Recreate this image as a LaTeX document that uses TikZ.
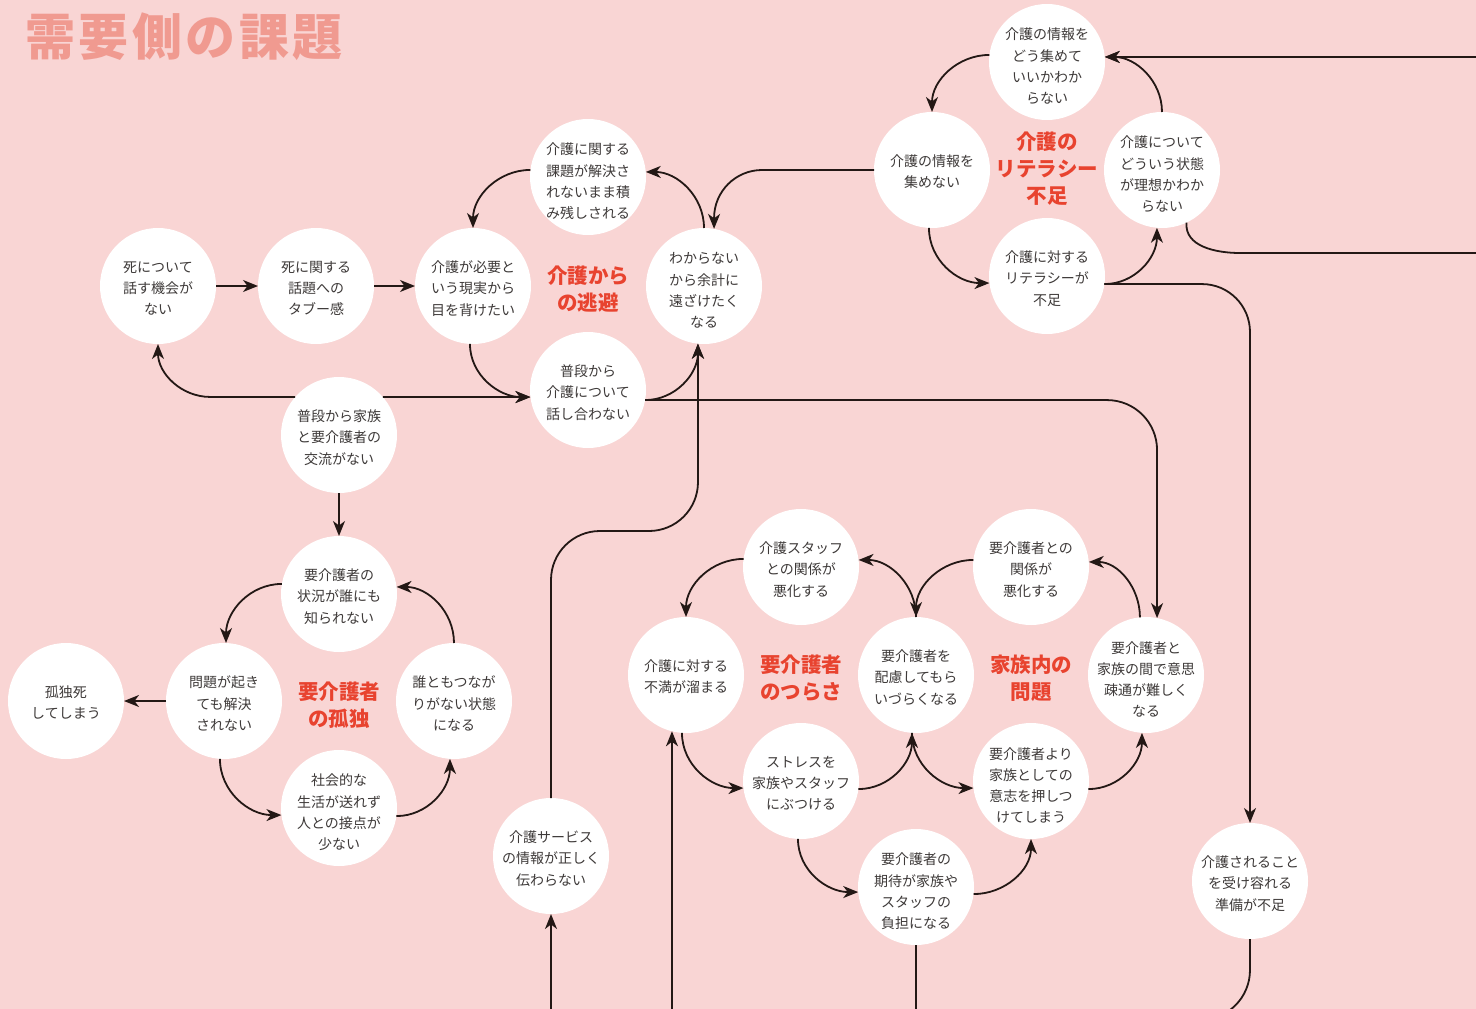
\documentclass[tikz,border=0pt]{standalone}
\usepackage{fontspec}
\setmainfont{Noto Sans CJK JP}
\usetikzlibrary{arrows.meta,calc}
\definecolor{bg}{HTML}{F9D5D4}
\definecolor{hred}{HTML}{E8432F}
\definecolor{ttl}{HTML}{F09A90}
\definecolor{txt}{HTML}{3E3A39}
\definecolor{lncol}{HTML}{231815}
\begin{document}
\begin{tikzpicture}[x=1pt,y=1pt,
 bub/.style={circle, fill=white, minimum size=116pt, inner sep=0pt, outer sep=0pt},
 lbl/.style={align=center, text=txt, inner sep=0pt, font=\fontsize{14}{21.3}\selectfont},
 lA/.style={label={[lbl, yshift=-1.5pt]center:{#1}}},
 lB/.style={label={[lbl, yshift=-2.5pt]center:{#1}}},
 lC/.style={label={[lbl, yshift=-4.5pt]center:{#1}}},
 hub/.style={align=center, text=hred, font=\fontsize{20.5}{27}\selectfont\bfseries},
 arr/.style={draw=lncol, line width=1.8pt, -{Stealth[length=15pt,width=12pt,inset=4.5pt]}},
 plain/.style={draw=lncol, line width=1.8pt},
]
\useasboundingbox (0,0) rectangle (1476,-1009);
\fill[bg] (0,0) rectangle (1476,-1009);
\clip (0,0) rectangle (1476,-1009);

\node[text=ttl, font=\fontsize{50}{56}\selectfont\bfseries\addfontfeatures{LetterSpace=7}] (title) at (184,-37) {需要側の課題};

% coordinates at the edges
\coordinate (re1) at (1476,-57);
\coordinate (re2) at (1476,-253);
\coordinate (c3) at (1240,-253);
\coordinate (b1) at (551,-1009);
\coordinate (b2) at (672,-1009);
\coordinate (b3) at (916,-1009);
\coordinate (b4) at (1000,-1020);

% escape
\node[bub, lB={死について\\話す機会が\\ない}] (t1) at (158,-286) {};
\node[bub, lB={死に関する\\話題への\\タブー感}] (t2) at (316,-286) {};
\node[bub, lB={介護が必要と\\いう現実から\\目を背けたい}] (t3) at (473,-286) {};
\node[bub, lC={介護に関する\\課題が解決さ\\れないまま積\\み残しされる}] (t4) at (588,-177) {};
\node[bub, lC={わからない\\から余計に\\遠ざけたく\\なる}] (t5) at (704,-286) {};
\node[bub, lB={普段から\\介護について\\話し合わない}] (t6) at (588,-390) {};
\node[bub, lB={普段から家族\\と要介護者の\\交流がない}] (f1) at (339,-435) {};
\node[hub] (h1) at (588,-289) {介護から\\の逃避};

% literacy
\node[bub, lC={介護の情報を\\どう集めて\\いいかわか\\らない}] (L1) at (1047,-62) {};
\node[bub, lA={介護の情報を\\集めない}] (L2) at (932,-170) {};
\node[bub, lC={介護について\\どういう状態\\が理想かわか\\らない}] (L3) at (1162,-170) {};
\node[bub, lB={介護に対する\\リテラシーが\\不足}] (L4) at (1047,-276) {};
\node[hub] (h2) at (1047,-169) {介護の\\リテラシー\\不足};

% isolation
\node[bub, lB={要介護者の\\状況が誰にも\\知られない}] (I1) at (339,-594) {};
\node[bub, lB={問題が起き\\ても解決\\されない}] (I2) at (224,-701) {};
\node[bub, lB={誰ともつなが\\りがない状態\\になる}] (I3) at (454,-701) {};
\node[bub, lC={社会的な\\生活が送れず\\人との接点が\\少ない}] (I4) at (339,-808) {};
\node[bub, lA={孤独死\\してしまう}] (I0) at (66,-701) {};
\node[hub] (h3) at (339,-705) {要介護者\\の孤独};

% tsurasa
\node[bub, lB={介護スタッフ\\との関係が\\悪化する}] (S1) at (801,-567) {};
\node[bub, lA={介護に対する\\不満が溜まる}] (S2) at (686,-675) {};
\node[bub, lB={要介護者を\\配慮してもら\\いづらくなる}] (S3) at (916,-675) {};
\node[bub, lB={ストレスを\\家族やスタッフ\\にぶつける}] (S4) at (801,-781) {};
\node[bub, lC={要介護者の\\期待が家族や\\スタッフの\\負担になる}] (S5) at (916,-887) {};
\node[hub] (h4) at (801,-678) {要介護者\\のつらさ};

% family
\node[bub, lB={要介護者との\\関係が\\悪化する}] (F1) at (1031,-567) {};
\node[bub, lC={要介護者と\\家族の間で意思\\疎通が難しく\\なる}] (F2) at (1146,-675) {};
\node[bub, lC={要介護者より\\家族としての\\意志を押しつ\\けてしまう}] (F3) at (1031,-781) {};
\node[hub] (h5) at (1031,-678) {家族内の\\問題};

\node[bub, lB={介護サービス\\の情報が正しく\\伝わらない}] (sv) at (551,-856) {};
\node[bub, lB={介護されること\\を受け容れる\\準備が不足}] (uk) at (1250,-881) {};

% escape edges
\draw[arr] (t1.east) -- (t2.west);
\draw[arr] (t2.east) -- (t3.west);
\draw[arr] (t4.173) to[out=180,in=90] (t3.north);
\draw[arr] (t5.north) to[out=90,in=0] (t4.5);
\draw[arr] (t3.-93) to[out=-90,in=180] (t6.187);
\draw[arr] (t6.-10) to[out=0,in=-90] (t5.-96);
\draw[arr] (f1.41) -- (t6.187);
\draw[arr] (f1.139) -- ++(-85,0) to[out=180,in=-90] (t1.south);
\draw[arr] (f1.south) -- (I1.north);
\draw[arr, rounded corners=50pt] (t6.-10) -| (F2.79);
\draw[arr] (sv.north) -- ++(0,218) to[out=90,in=180] ++(49,49) -- ++(49,0) to[out=0,in=-90] ++(49,49) -- (t5.-96);

% literacy edges
\draw[arr] (L1.173) to[out=180,in=90] (L2.north);
\draw[arr] (L3.north) to[out=90,in=0] (L1.5);
\draw[arr] (L2.-93) to[out=-90,in=180] (L4.187);
\draw[arr] (L4.-8) to[out=0,in=-90] (L3.-95);
\draw[arr] (re1) -- (L1.5);
\draw[plain] (L3.-65) to[out=-95,in=180] (c3) -- (re2);
\draw[arr, rounded corners=48pt] (L4.-8) -| (uk.north);
\draw[arr, rounded corners=48pt] (L2.west) -| (t5.80);

% isolation edges
\draw[arr] (I1.170) to[out=180,in=90] (I2.88);
\draw[arr] (I3.north) to[out=90,in=0] (I1.7);
\draw[arr] (I2.-94) to[out=-90,in=180] (I4.187);
\draw[arr] (I4.-8) to[out=0,in=-90] (I3.-94);
\draw[arr] (I2.west) -- (I0.east);

% tsurasa edges
\draw[arr] (S1.172) to[out=180,in=90] (S2.north);
\draw[arr] (S3.north) to[out=90,in=0] (S1.7);
\draw[arr] (S2.-94) to[out=-90,in=180] (S4.187);
\draw[arr] (S4.-8) to[out=0,in=-90] (S3.-94);
\draw[arr] (S4.-93) to[out=-90,in=180] (S5.185);
\draw[arr] (S5.-7) to[out=0,in=-90] (F3.south);
\draw[plain] (S5.south) -- (b3);
\draw[arr] (b2) -- (S2.-104);
\draw[arr] (b1) -- (sv.south);

% family edges
\draw[arr] (F1.173) to[out=180,in=90] (S3.north);
\draw[arr] (F2.96) to[out=90,in=0] (F1.5);
\draw[arr] (S3.-94) to[out=-90,in=180] (F3.187);
\draw[arr] (F3.-8) to[out=0,in=-90] (F2.-94);

\draw[plain, rounded corners=50pt] (uk.south) |- (b4);
\end{tikzpicture}
\end{document}
